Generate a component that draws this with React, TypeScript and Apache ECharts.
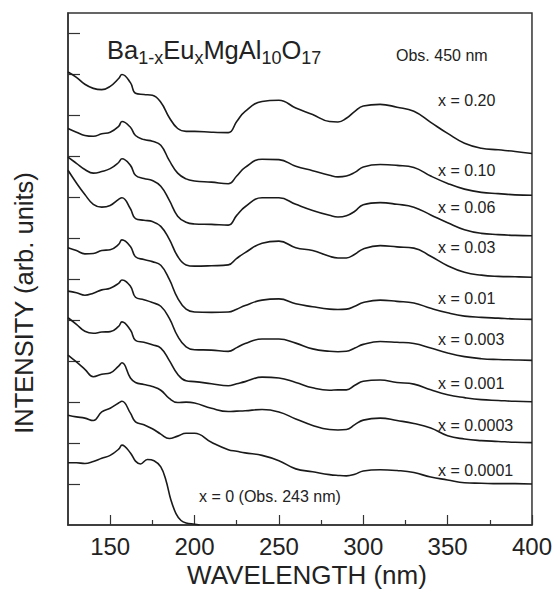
import React, { useEffect, useRef } from "react";
import * as echarts from "echarts";

// Wavelength grid (nm) shared by the doped samples
const WAVELENGTH = [125,130,135,140,145,150,155,157,162,165,170,175,180,185,190,195,200,210,220,225,230,240,250,260,270,280,285,290,295,300,310,320,330,340,350,360,370,380,390,400];

// Intensities (arb. units, vertically offset as in the figure)
const X020 = [11.06,10.93,10.76,10.66,10.63,10.71,10.90,11.00,10.80,10.54,10.51,10.49,10.32,9.95,9.68,9.61,9.61,9.59,9.58,9.85,10.10,10.34,10.37,10.18,10.02,9.85,9.84,9.93,10.10,10.23,10.27,10.20,10.10,9.83,9.56,9.32,9.20,9.16,9.12,9.07];
const X010 = [9.68,9.59,9.51,9.49,9.55,9.59,9.73,9.85,9.71,9.51,9.41,9.37,9.27,8.90,8.59,8.45,8.40,8.37,8.33,8.52,8.73,8.93,8.92,8.76,8.65,8.54,8.50,8.52,8.61,8.74,8.80,8.78,8.73,8.52,8.34,8.20,8.12,8.09,8.06,8.05];
const X006 = [8.98,8.83,8.68,8.59,8.63,8.70,8.85,8.94,8.78,8.54,8.46,8.41,8.27,7.93,7.54,7.39,7.35,7.34,7.32,7.56,7.77,7.99,7.99,7.83,7.68,7.56,7.52,7.55,7.66,7.82,7.87,7.83,7.76,7.57,7.38,7.21,7.12,7.09,7.07,7.06];
const X003 = [8.66,8.35,8.07,7.83,7.76,7.80,7.95,7.99,7.72,7.48,7.44,7.41,7.29,6.98,6.56,6.35,6.32,6.33,6.35,6.51,6.65,6.88,6.93,6.77,6.70,6.56,6.52,6.52,6.61,6.74,6.82,6.79,6.76,6.56,6.33,6.17,6.10,6.07,6.06,6.05];
const X001 = [6.77,6.70,6.62,6.63,6.70,6.72,6.85,6.96,6.80,6.55,6.48,6.43,6.34,6.00,5.54,5.27,5.20,5.19,5.20,5.27,5.36,5.49,5.52,5.40,5.33,5.27,5.26,5.27,5.34,5.43,5.49,5.46,5.42,5.29,5.18,5.10,5.07,5.05,5.03,5.02];
const X0003 = [5.71,5.67,5.61,5.66,5.74,5.78,5.90,5.98,5.83,5.56,5.50,5.43,5.34,5.05,4.61,4.35,4.28,4.27,4.24,4.33,4.43,4.54,4.54,4.44,4.30,4.24,4.23,4.24,4.32,4.41,4.48,4.46,4.43,4.32,4.20,4.11,4.06,4.04,4.03,4.02];
const X0001 = [5.06,4.90,4.73,4.68,4.71,4.72,4.85,4.96,4.76,4.51,4.46,4.40,4.32,4.02,3.68,3.52,3.50,3.45,3.40,3.45,3.50,3.61,3.59,3.48,3.35,3.29,3.30,3.30,3.41,3.51,3.54,3.48,3.44,3.30,3.18,3.11,3.06,3.04,3.02,3.01];
const X00003 = [4.15,3.98,3.80,3.62,3.68,3.71,3.88,3.96,3.59,3.48,3.43,3.38,3.29,3.09,2.99,3.00,2.98,2.85,2.77,2.78,2.79,2.82,2.76,2.59,2.43,2.33,2.32,2.33,2.45,2.56,2.61,2.55,2.48,2.37,2.18,2.10,2.06,2.04,2.02,2.01];
const X00001 = [2.68,2.64,2.61,2.55,2.76,2.85,2.98,3.02,2.73,2.52,2.45,2.35,2.22,2.11,2.17,2.24,2.24,2.02,1.84,1.80,1.76,1.70,1.57,1.37,1.30,1.23,1.21,1.20,1.24,1.32,1.35,1.33,1.28,1.17,1.10,1.03,1.02,1.01,1.01,1.00];

// Undoped sample (x = 0), observed at 243 nm
const WAVELENGTH_0 = [125,130,135,140,145,150,155,157,162,165,168,172,176,180,183,186,189,192,195,200,203];
const X0 = [1.52,1.52,1.50,1.55,1.63,1.70,1.85,1.95,1.76,1.56,1.49,1.60,1.57,1.42,1.10,0.61,0.28,0.11,0.05,0.02,0.0];

const SERIES_NAMES = ["x = 0.20","x = 0.10","x = 0.06","x = 0.03","x = 0.01","x = 0.003","x = 0.001","x = 0.0003","x = 0.0001"];
const SERIES_VALUES = [X020, X010, X006, X003, X001, X0003, X0001, X00003, X00001];
const LABEL_Y = [100, 170, 207, 247, 298, 339, 383, 425, 470];

const X_MAJOR_TICKS = [150, 200, 250, 300, 350, 400];
const X_MINOR_TICKS = [175, 225, 275, 325, 375];
const Y_TICKS = [1,2,3,4,5,6,7,8,9,10,11,12];

const FONT = '"Liberation Sans", Arial, Helvetica, sans-serif';
const AXIS_COLOR = "#333";
const TEXT_COLOR = "#222";
const LINE_COLOR = "#1a1a1a";

export default function App() {
  const ref = useRef<HTMLDivElement>(null);
  useEffect(() => {
    document.body.style.margin = "0";
    if (!ref.current) return;
    const chart = echarts.init(ref.current, null, { renderer: "svg" });
    const lineSeries: any[] = SERIES_VALUES.map((vals, k) => ({
      name: SERIES_NAMES[k],
      type: "line",
      data: WAVELENGTH.map((w, i) => [w, vals[i]]),
      showSymbol: false,
      smooth: 0.45,
      lineStyle: { color: LINE_COLOR, width: 1.6 },
      itemStyle: { color: LINE_COLOR },
    }));
    lineSeries.push({
      name: "x = 0",
      type: "line",
      data: WAVELENGTH_0.map((w, i) => [w, X0[i]]),
      showSymbol: false,
      smooth: 0.4,
      lineStyle: { color: LINE_COLOR, width: 1.6 },
      itemStyle: { color: LINE_COLOR },
    });

    const labelTexts: any[] = SERIES_NAMES.map((n, k) => ({
      type: "text",
      x: 438,
      y: LABEL_Y[k],
      style: { text: n, font: `16px ${FONT}`, fill: TEXT_COLOR, align: "left", verticalAlign: "middle" },
    }));

    chart.setOption({
      animation: false,
      backgroundColor: "#fff",
      grid: { left: 68, right: 21, top: 13, bottom: 66, show: true, borderColor: AXIS_COLOR, borderWidth: 1.5 },
      xAxis: [
        {
          type: "value",
          min: 125,
          max: 400,
          axisLine: { show: true, lineStyle: { color: AXIS_COLOR, width: 1.5 } },
          axisTick: { show: true, inside: true, length: 10, customValues: X_MAJOR_TICKS, lineStyle: { color: AXIS_COLOR, width: 1.2 } },
          axisLabel: { customValues: X_MAJOR_TICKS, fontSize: 24, color: TEXT_COLOR, fontFamily: FONT, margin: 9 },
          splitLine: { show: false },
        },
        {
          type: "value",
          min: 125,
          max: 400,
          position: "bottom",
          axisLine: { show: false },
          axisTick: { show: true, inside: true, length: 5, customValues: X_MINOR_TICKS, lineStyle: { color: AXIS_COLOR, width: 1.2 } },
          axisLabel: { show: false },
          splitLine: { show: false },
        },
      ],
      yAxis: {
        type: "value",
        min: 0,
        max: 12.5,
        axisLine: { show: true, lineStyle: { color: AXIS_COLOR, width: 1.5 } },
        axisTick: { show: true, inside: true, length: 12, customValues: Y_TICKS, lineStyle: { color: AXIS_COLOR, width: 1.2 } },
        axisLabel: { show: false },
        splitLine: { show: false },
      },
      graphic: [
        {
          type: "text",
          x: 24,
          y: 303,
          rotation: Math.PI / 2,
          style: { text: "INTENSITY (arb. units)", font: `25.5px ${FONT}`, fill: TEXT_COLOR, align: "center", verticalAlign: "middle" },
        },
        {
          type: "text",
          x: 307,
          y: 575,
          style: { text: "WAVELENGTH (nm)", font: `26px ${FONT}`, fill: TEXT_COLOR, align: "center", verticalAlign: "middle" },
        },
        {
          type: "text",
          x: 107,
          y: 52,
          style: {
            text: "{b|Ba}{s|1-x}{b|Eu}{s|x}{b|MgAl}{s|10}{b|O}{s|17}",
            align: "left",
            verticalAlign: "middle",
            rich: {
              b: { fontSize: 25.5, fontFamily: FONT, fill: TEXT_COLOR, lineHeight: 30, verticalAlign: "top" },
              s: { fontSize: 18, fontFamily: FONT, fill: TEXT_COLOR, lineHeight: 15, verticalAlign: "bottom" },
            },
          },
        },
        {
          type: "text",
          x: 396,
          y: 55,
          style: { text: "Obs. 450 nm", font: `16px ${FONT}`, fill: TEXT_COLOR, align: "left", verticalAlign: "middle" },
        },
        {
          type: "text",
          x: 199,
          y: 496,
          style: { text: "x = 0 (Obs. 243 nm)", font: `16px ${FONT}`, fill: TEXT_COLOR, align: "left", verticalAlign: "middle" },
        },
        ...labelTexts,
      ],
      series: lineSeries,
    });
    return () => chart.dispose();
  }, []);
  return <div ref={ref} style={{ width: 555, height: 591 }} />;
}
